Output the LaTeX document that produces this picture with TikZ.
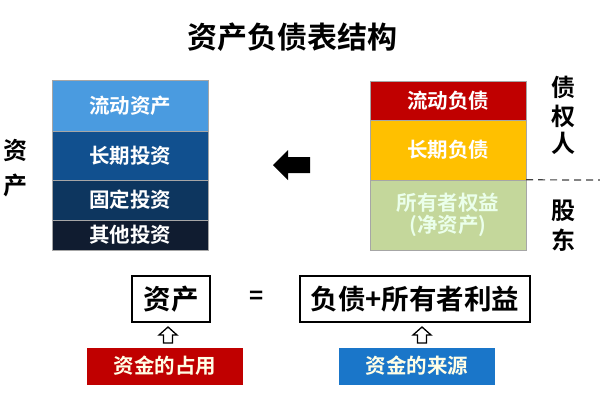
\documentclass[tikz,border=0pt]{standalone}
\usepackage{fontspec}
\setmainfont{Noto Sans CJK SC}[BoldFont={* Bold}]
\usepackage{xcolor}
\definecolor{skyblue}{HTML}{4A9BE0}
\definecolor{midblue}{HTML}{11508F}
\definecolor{deepblue}{HTML}{0D365F}
\definecolor{nightblue}{HTML}{101C30}
\definecolor{debtred}{HTML}{C00000}
\definecolor{debtgold}{HTML}{FFC000}
\definecolor{equitygreen}{HTML}{C4D79B}
\definecolor{sourceblue}{HTML}{1A76C9}
\usepackage{tikz}

\tikzset{
  part/.style={draw=gray!70, thin, minimum width=156pt, inner sep=0pt,
    text=white, font=\fontsize{20.5}{22}\selectfont\bfseries, align=center},
  side/.style={font=\fontsize{24}{26}\selectfont\bfseries},
  formula/.style={draw=black, line width=1.6pt, minimum height=46pt,
    font=\fontsize{27.5}{29}\selectfont\bfseries},
  tag/.style={minimum width=156pt, minimum height=37pt, inner sep=0pt,
    text=white!90!yellow, font=\fontsize{20.5}{22}\selectfont\bfseries},
  hollow/.style={draw=black, line width=1.3pt, fill=white}
}

\begin{document}
\begin{tikzpicture}[x=1pt, y=-1pt]
  \useasboundingbox (0,0) rectangle (600,400);

  % title
  \node[font=\fontsize{30}{32}\selectfont\bfseries] (title) at (292,37) {资产负债表结构};

  % assets, left stack
  \node[part, fill=skyblue, minimum height=51pt] (current) at (130,105.5) {流动资产};
  \node[part, fill=midblue, minimum height=49pt] (longinv) at (130,155.5) {长期投资};
  \node[part, fill=deepblue, minimum height=40pt] (fixedinv) at (130,200) {固定投资};
  \node[part, fill=nightblue, minimum height=30pt] (otherinv) at (130,235) {其他投资};
  \node[side] (zi) at (16,150) {资};
  \node[side] (chan) at (16,185) {产};

  % liabilities and equity, right stack
  \node[part, fill=debtred, minimum height=39pt] (curdebt) at (448,100.5) {流动负债};
  \node[part, fill=debtgold, minimum height=60pt] (longdebt) at (448,150) {长期负债};
  \node[part, fill=equitygreen, minimum height=70pt, text=white!92!green] (equity) at (448,215)
    {所有者权益\\(净资产)};
  \node[side] (zhai) at (563,87) {债};
  \node[side] (quan) at (563,116) {权};
  \node[side] (ren) at (563,143) {人};
  \node[side] (gu) at (563,211) {股};
  \node[side] (dong) at (563,240) {东};

  % creditors above, owners below
  \coordinate (edge) at (600,180);
  \draw[black!75, line width=1.2pt, dash pattern=on 7pt off 5pt] (equity.north east) -- (edge);

  % big arrow between the stacks
  \fill[black] (273,165) -- (288,150) -- (288,157) -- (310,157) -- (310,173)
    -- (288,173) -- (288,180) -- cycle;

  % the equation
  \node[formula, minimum width=78pt] (assets) at (171,299) {资产};
  \node[font=\fontsize{24}{26}\selectfont\bfseries] (equals) at (257,298) {=};
  \node[formula, minimum width=230pt] (claims) at (415,299) {负债+所有者利益};

  % where the money sits, where it comes from
  \node[tag, fill=debtred] (use) at (165,366) {资金的占用};
  \node[tag, fill=sourceblue] (source) at (417,366) {资金的来源};
  \draw[hollow] (168,327) -- (177,335) -- (172.5,335) -- (172.5,343) -- (163.5,343)
    -- (163.5,335) -- (159,335) -- cycle;
  \draw[hollow] (422,327) -- (431,335) -- (426.5,335) -- (426.5,343) -- (417.5,343)
    -- (417.5,335) -- (413,335) -- cycle;

\end{tikzpicture}
\end{document}
